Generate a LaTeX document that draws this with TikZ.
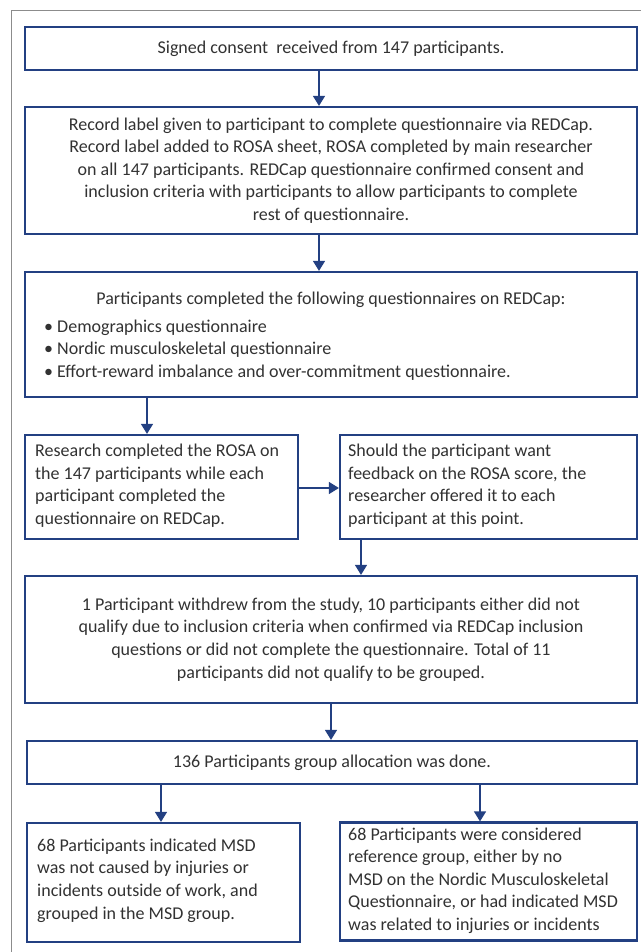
\documentclass[tikz,border=0pt]{standalone}
\usepackage{fontspec}
\setmainfont{Carlito}
\usetikzlibrary{arrows.meta}
\definecolor{bx}{RGB}{35,64,130}
\definecolor{tx}{RGB}{50,50,50}
\definecolor{fr}{RGB}{140,140,140}
\newcommand\myfs{\fontsize{18pt}{22.6pt}\selectfont}
\begin{document}
\begin{tikzpicture}[x=1pt,y=-1pt,
  box/.style={draw=bx, line width=2.2pt, inner sep=0pt, text=tx, font=\myfs, align=center},
  txt/.style={text=tx, font=\myfs, inner sep=0pt, align=left},
  arr/.style={draw=bx, line width=1.3pt, -{Triangle[width=12pt,length=10pt]}},
  frame/.style={draw=fr, line width=1.5pt}]
\useasboundingbox (0,0) rectangle (641,952);
\fill[white] (0,0) rectangle (641,952);
\draw[frame] (11.5,952) -- (11.5,10.5) -- (641,10.5);

\node[box, minimum width=612pt, minimum height=43pt] (b1) at (331,48.5)
  {Signed consent\ \ received from 147 participants.};
\node[box, minimum width=612pt, minimum height=127pt] (b2) at (331,170.5)
  {Record label given to participant to complete questionnaire via REDCap.\\
   Record label added to ROSA sheet, ROSA completed by main researcher\\
   on all 147 participants. REDCap questionnaire confirmed consent and\\
   inclusion criteria with participants to allow participants to complete\\
   rest of questionnaire.};
\node[box, minimum width=612pt, minimum height=125pt] (b3) at (331,334.5) {};
\node[txt, anchor=center] (b3h) at (331,300) {Participants completed the following questionnaires on REDCap:};
\node[txt, anchor=west] (b3l) at (44,350)
  {\textbullet\ Demographics questionnaire\\
   \textbullet\ Nordic musculoskeletal questionnaire\\
   \textbullet\ Effort-reward imbalance and over-commitment questionnaire.};

\node[box, minimum width=273pt, minimum height=104pt] (b4) at (161.5,487) {};
\node[txt, anchor=west] (t4) at (35,485.5)
  {Research completed the ROSA on\\
   the 147 participants while each\\
   participant completed the\\
   questionnaire on REDCap.};
\node[box, minimum width=297pt, minimum height=104pt] (b5) at (488.5,487) {};
\node[txt, anchor=west] (t5) at (348,485.5)
  {Should the participant want\\
   feedback on the ROSA score, the\\
   researcher offered it to each\\
   participant at this point.};

\node[box, minimum width=612pt, minimum height=127pt] (b6) at (331,639.5)
  {1 Participant withdrew from the study, 10 participants either did not\\
   qualify due to inclusion criteria when confirmed via REDCap inclusion\\
   questions or did not complete the questionnaire. Total of 11\\
   participants did not qualify to be grouped.};
\node[box, minimum width=610pt, minimum height=43pt] (b7) at (332,762.5)
  {136 Participants group allocation was done.};

\node[box, minimum width=273pt, minimum height=119pt] (b8) at (163.5,882.5) {};
\node[txt, anchor=west] (t8) at (37,880.5)
  {68 Participants indicated MSD\\
   was not caused by injuries or\\
   incidents outside of work, and\\
   grouped in the MSD group.};
\node[box, minimum width=297pt, minimum height=118pt] (b9) at (488.5,881.5) {};
\node[txt, anchor=west] (t9) at (348,880.5)
  {68 Participants were considered\\
   reference group, either by no\\
   MSD on the Nordic Musculoskeletal\\
   Questionnaire, or had indicated MSD\\
   was related to injuries or incidents};

\coordinate (c1) at (319,0);
\coordinate (c2) at (147,0);
\coordinate (c3) at (361,0);
\coordinate (c4) at (331,0);
\coordinate (c5) at (161,0);
\coordinate (c6) at (480,0);
\coordinate (c7) at (0,488);

\draw[arr] (b1.south -| c1) -- (b2.north -| c1);
\draw[arr] (b2.south -| c1) -- (b3.north -| c1);
\draw[arr] (b3.south -| c2) -- (b4.north -| c2);
\draw[arr] (b4.east |- c7) -- (b5.west |- c7);
\draw[arr] (b5.south -| c3) -- (b6.north -| c3);
\draw[arr] (b6.south -| c4) -- (b7.north -| c4);
\draw[arr] (b7.south -| c5) -- (b8.north -| c5);
\draw[arr] (b7.south -| c6) -- (b9.north -| c6);
\end{tikzpicture}
\end{document}
